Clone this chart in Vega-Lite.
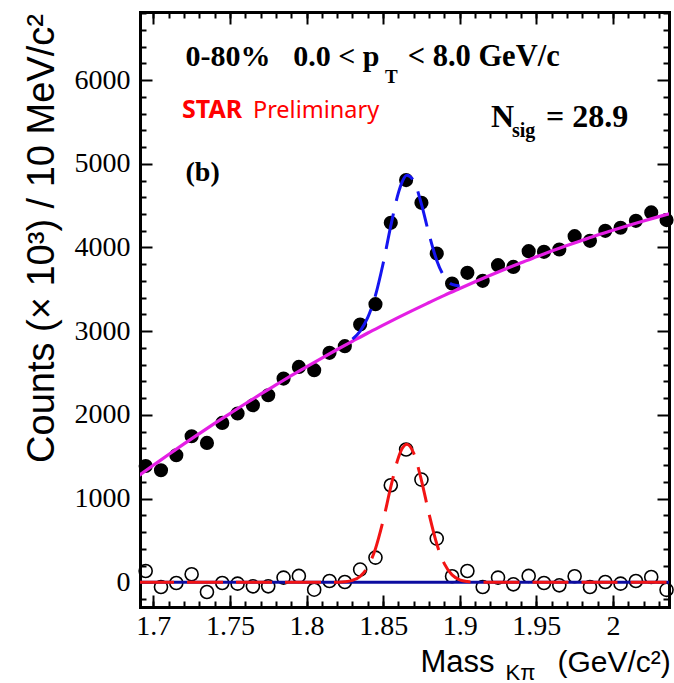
{
  "$schema": "https://vega.github.io/schema/vega-lite/v6.json",
  "autosize": {"type": "none"},
  "width": 529,
  "height": 595,
  "padding": {"left": 140, "top": 12, "right": 5, "bottom": 76},
  "background": "white",
  "config": {"view": {"stroke": null}, "axis": {"grid": false, "zindex": 1}},
  "datasets": {
    "obs": [
      {"m": 1.695, "total": 1390, "signal": 135},
      {"m": 1.705, "total": 1339, "signal": -56},
      {"m": 1.715, "total": 1518, "signal": -8},
      {"m": 1.725, "total": 1745, "signal": 96},
      {"m": 1.735, "total": 1665, "signal": -116},
      {"m": 1.745, "total": 1904, "signal": -8},
      {"m": 1.755, "total": 2016, "signal": -16},
      {"m": 1.765, "total": 2115, "signal": -48},
      {"m": 1.775, "total": 2235, "signal": -48},
      {"m": 1.785, "total": 2434, "signal": 56},
      {"m": 1.795, "total": 2573, "signal": 76},
      {"m": 1.805, "total": 2534, "signal": -88},
      {"m": 1.815, "total": 2741, "signal": 16},
      {"m": 1.825, "total": 2821, "signal": 4},
      {"m": 1.835, "total": 3080, "signal": 152},
      {"m": 1.845, "total": 3323, "signal": 295},
      {"m": 1.855, "total": 4294, "signal": 1159},
      {"m": 1.865, "total": 4805, "signal": 1586},
      {"m": 1.875, "total": 4533, "signal": 1227},
      {"m": 1.885, "total": 3928, "signal": 522},
      {"m": 1.895, "total": 3570, "signal": 72},
      {"m": 1.905, "total": 3697, "signal": 135},
      {"m": 1.915, "total": 3601, "signal": -56},
      {"m": 1.925, "total": 3789, "signal": 56},
      {"m": 1.935, "total": 3768, "signal": -24},
      {"m": 1.945, "total": 3956, "signal": 76},
      {"m": 1.955, "total": 3948, "signal": -8},
      {"m": 1.965, "total": 3976, "signal": -36},
      {"m": 1.975, "total": 4135, "signal": 72},
      {"m": 1.985, "total": 4079, "signal": -56},
      {"m": 1.995, "total": 4199, "signal": 4},
      {"m": 2.005, "total": 4235, "signal": -16},
      {"m": 2.015, "total": 4318, "signal": 16},
      {"m": 2.025, "total": 4419, "signal": 64},
      {"m": 2.035, "total": 4327, "signal": -90}
    ],
    "bg": [
      {"m": 1.69, "counts": 1268}, {"m": 1.70, "counts": 1398}, {"m": 1.71, "counts": 1527},
      {"m": 1.72, "counts": 1653}, {"m": 1.73, "counts": 1776}, {"m": 1.74, "counts": 1898},
      {"m": 1.75, "counts": 2016}, {"m": 1.76, "counts": 2133}, {"m": 1.77, "counts": 2247},
      {"m": 1.78, "counts": 2358}, {"m": 1.79, "counts": 2468}, {"m": 1.80, "counts": 2574},
      {"m": 1.81, "counts": 2679}, {"m": 1.82, "counts": 2781}, {"m": 1.83, "counts": 2880},
      {"m": 1.84, "counts": 2978}, {"m": 1.85, "counts": 3072}, {"m": 1.86, "counts": 3165},
      {"m": 1.87, "counts": 3255}, {"m": 1.88, "counts": 3342}, {"m": 1.89, "counts": 3428},
      {"m": 1.90, "counts": 3510}, {"m": 1.91, "counts": 3591}, {"m": 1.92, "counts": 3669},
      {"m": 1.93, "counts": 3744}, {"m": 1.94, "counts": 3818}, {"m": 1.95, "counts": 3888},
      {"m": 1.96, "counts": 3957}, {"m": 1.97, "counts": 4023}, {"m": 1.98, "counts": 4086},
      {"m": 1.99, "counts": 4148}, {"m": 2.00, "counts": 4206}, {"m": 2.01, "counts": 4263},
      {"m": 2.02, "counts": 4317}, {"m": 2.03, "counts": 4368}, {"m": 2.04, "counts": 4418}
    ],
    "fit": [
      {"m": 1.830, "counts": 2904}, {"m": 1.835, "counts": 3002}, {"m": 1.840, "counts": 3164},
      {"m": 1.845, "counts": 3427}, {"m": 1.850, "counts": 3808}, {"m": 1.855, "counts": 4258},
      {"m": 1.860, "counts": 4656}, {"m": 1.8625, "counts": 4788}, {"m": 1.8655, "counts": 4864},
      {"m": 1.870, "counts": 4796}, {"m": 1.875, "counts": 4518}, {"m": 1.880, "counts": 4156},
      {"m": 1.885, "counts": 3845}, {"m": 1.890, "counts": 3648}, {"m": 1.895, "counts": 3558},
      {"m": 1.900, "counts": 3540}
    ],
    "gaus": [
      {"m": 1.69, "counts": 0}, {"m": 1.815, "counts": 0}, {"m": 1.820, "counts": 1.6},
      {"m": 1.825, "counts": 6.7}, {"m": 1.830, "counts": 24}, {"m": 1.835, "counts": 72},
      {"m": 1.840, "counts": 186}, {"m": 1.845, "counts": 402}, {"m": 1.850, "counts": 736},
      {"m": 1.855, "counts": 1139}, {"m": 1.860, "counts": 1491}, {"m": 1.8625, "counts": 1601},
      {"m": 1.8655, "counts": 1650}, {"m": 1.870, "counts": 1541}, {"m": 1.875, "counts": 1219},
      {"m": 1.880, "counts": 814}, {"m": 1.885, "counts": 460}, {"m": 1.890, "counts": 220},
      {"m": 1.895, "counts": 89}, {"m": 1.900, "counts": 30}, {"m": 1.905, "counts": 8.7},
      {"m": 1.910, "counts": 2.1}, {"m": 1.915, "counts": 0}, {"m": 2.04, "counts": 0}
    ],
    "zero": [{"m": 1.69, "counts": 0}, {"m": 2.04, "counts": 0}]
  },
  "resolve": {"scale": {"x": "shared", "y": "shared"}, "axis": {"x": "independent", "y": "independent"}},
  "layer": [
    {
      "data": {"name": "obs"},
      "mark": {"type": "circle", "color": "black", "opacity": 1, "size": 200},
      "encoding": {
        "x": {"field": "m", "type": "quantitative", "scale": {"domain": [1.6913, 2.0366], "nice": false, "zero": false},
          "axis": {"orient": "bottom", "values": [1.7, 1.75, 1.8, 1.85, 1.9, 1.95, 2], "format": "~g", "ticks": false,
            "domain": true, "domainWidth": 3, "domainColor": "black", "domainCap": "square",
            "labelFont": "Liberation Sans Narrow", "labelFontSize": 28, "labelColor": "black", "labelPadding": 5,
            "labelFlush": false, "labelOverlap": false, "labelBound": false,
            "title": "Mass", "titleFont": "Liberation Sans", "titleFontSize": 31, "titleFontWeight": "normal", "titleColor": "black",
            "titleX": 280, "titleY": 64, "titleAlign": "left", "titleBaseline": "alphabetic", "titleAnchor": null}},
        "y": {"field": "total", "type": "quantitative", "scale": {"domain": [-295, 6813], "nice": false, "zero": false},
          "axis": {"orient": "left", "values": [0, 1000, 2000, 3000, 4000, 5000, 6000], "format": "d", "ticks": false,
            "domain": true, "domainWidth": 3, "domainColor": "black", "domainCap": "square",
            "labelFont": "Liberation Sans Narrow", "labelFontSize": 28, "labelColor": "black", "labelPadding": 10,
            "labelFlush": false, "labelOverlap": false, "labelBound": false,
            "title": "Counts (× 10³) / 10 MeV/c²", "titleFont": "Liberation Sans", "titleFontSize": 38, "titleFontWeight": "normal", "titleColor": "black",
            "titleX": -98, "titleY": 226, "titleAngle": -90, "titleAlign": "center", "titleBaseline": "middle"}}
      }
    },
    {
      "data": {"name": "obs"},
      "mark": {"type": "point", "shape": "circle", "filled": false, "color": "black", "strokeWidth": 1.6, "opacity": 1, "size": 170},
      "encoding": {
        "x": {"field": "m", "type": "quantitative", "scale": {"domain": [1.6913, 2.0366], "nice": false, "zero": false},
          "axis": {"orient": "top", "values": [1.7, 1.75, 1.8, 1.85, 1.9, 1.95, 2], "labels": false, "ticks": true,
            "tickSize": -12, "tickWidth": 2, "tickColor": "black",
            "domain": true, "domainWidth": 3, "domainColor": "black", "domainCap": "square", "title": null}},
        "y": {"field": "signal", "type": "quantitative", "scale": {"domain": [-295, 6813], "nice": false, "zero": false},
          "axis": {"orient": "right", "values": [0, 1000, 2000, 3000, 4000, 5000, 6000], "labels": false, "ticks": true,
            "tickSize": -12, "tickWidth": 2, "tickColor": "black",
            "domain": true, "domainWidth": 3, "domainColor": "black", "domainCap": "square", "title": null}}
      }
    },
    {
      "data": {"name": "zero"},
      "mark": {"type": "line", "color": "#0c0ca0", "strokeWidth": 3, "clip": true},
      "encoding": {
        "x": {"field": "m", "type": "quantitative", "scale": {"domain": [1.6913, 2.0366], "nice": false, "zero": false},
          "axis": {"orient": "bottom", "values": [1.7, 1.75, 1.8, 1.85, 1.9, 1.95, 2], "labels": false, "ticks": true,
            "tickSize": -12, "tickWidth": 2, "tickColor": "black", "domain": false,
            "title": "(GeV/c²)", "titleFont": "Liberation Sans", "titleFontSize": 30, "titleFontWeight": "normal", "titleColor": "black",
            "titleX": 417, "titleY": 64, "titleAlign": "left", "titleBaseline": "alphabetic"}},
        "y": {"field": "counts", "type": "quantitative", "scale": {"domain": [-295, 6813], "nice": false, "zero": false},
          "axis": {"orient": "left", "values": [0, 1000, 2000, 3000, 4000, 5000, 6000], "labels": false, "ticks": true,
            "tickSize": -12, "tickWidth": 2, "tickColor": "black", "domain": false, "title": null}}
      }
    },
    {
      "data": {"name": "bg"},
      "mark": {"type": "line", "color": "#e41fe4", "strokeWidth": 3.2, "clip": true, "interpolate": "monotone"},
      "encoding": {
        "x": {"field": "m", "type": "quantitative", "scale": {"domain": [1.6913, 2.0366], "nice": false, "zero": false},
          "axis": {"orient": "bottom",
            "values": [1.7, 1.71, 1.72, 1.73, 1.74, 1.75, 1.76, 1.77, 1.78, 1.79, 1.8, 1.81, 1.82, 1.83, 1.84, 1.85, 1.86, 1.87, 1.88, 1.89, 1.9, 1.91, 1.92, 1.93, 1.94, 1.95, 1.96, 1.97, 1.98, 1.99, 2, 2.01, 2.02, 2.03],
            "labels": false, "ticks": true, "tickSize": -6, "tickWidth": 2, "tickColor": "black", "domain": false,
            "title": "Kπ", "titleFont": "Liberation Sans", "titleFontSize": 22, "titleFontWeight": "normal", "titleColor": "black",
            "titleX": 365, "titleY": 72, "titleAlign": "left", "titleBaseline": "alphabetic"}},
        "y": {"field": "counts", "type": "quantitative", "scale": {"domain": [-295, 6813], "nice": false, "zero": false},
          "axis": {"orient": "left",
            "values": [-200, 200, 400, 600, 800, 1200, 1400, 1600, 1800, 2200, 2400, 2600, 2800, 3200, 3400, 3600, 3800, 4200, 4400, 4600, 4800, 5200, 5400, 5600, 5800, 6200, 6400, 6600, 6800],
            "labels": false, "ticks": true, "tickSize": -6, "tickWidth": 2, "tickColor": "black", "domain": false, "title": null}}
      }
    },
    {
      "data": {"name": "fit"},
      "mark": {"type": "line", "color": "#1515f0", "strokeWidth": 3, "strokeDash": [36, 13], "clip": true, "interpolate": "monotone"},
      "encoding": {
        "x": {"field": "m", "type": "quantitative", "scale": {"domain": [1.6913, 2.0366], "nice": false, "zero": false},
          "axis": {"orient": "top",
            "values": [1.7, 1.71, 1.72, 1.73, 1.74, 1.75, 1.76, 1.77, 1.78, 1.79, 1.8, 1.81, 1.82, 1.83, 1.84, 1.85, 1.86, 1.87, 1.88, 1.89, 1.9, 1.91, 1.92, 1.93, 1.94, 1.95, 1.96, 1.97, 1.98, 1.99, 2, 2.01, 2.02, 2.03],
            "labels": false, "ticks": true, "tickSize": -6, "tickWidth": 2, "tickColor": "black", "domain": false, "title": null}},
        "y": {"field": "counts", "type": "quantitative", "scale": {"domain": [-295, 6813], "nice": false, "zero": false},
          "axis": {"orient": "right",
            "values": [-200, 200, 400, 600, 800, 1200, 1400, 1600, 1800, 2200, 2400, 2600, 2800, 3200, 3400, 3600, 3800, 4200, 4400, 4600, 4800, 5200, 5400, 5600, 5800, 6200, 6400, 6600, 6800],
            "labels": false, "ticks": true, "tickSize": -6, "tickWidth": 2, "tickColor": "black", "domain": false, "title": null}}
      }
    },
    {
      "data": {"name": "gaus"},
      "mark": {"type": "line", "color": "#f21414", "strokeWidth": 3, "strokeDash": [36, 13], "clip": true, "interpolate": "monotone"},
      "encoding": {
        "x": {"field": "m", "type": "quantitative", "scale": {"domain": [1.6913, 2.0366], "nice": false, "zero": false}, "axis": null},
        "y": {"field": "counts", "type": "quantitative", "scale": {"domain": [-295, 6813], "nice": false, "zero": false}, "axis": null}
      }
    },
    {
      "data": {"values": [{}]},
      "mark": {"type": "text", "text": "0-80%", "font": "Liberation Serif", "fontWeight": "bold", "fontSize": 30, "align": "left", "baseline": "alphabetic", "color": "black"},
      "encoding": {"x": {"datum": 1.721, "type": "quantitative", "axis": null}, "y": {"datum": 6167, "type": "quantitative", "axis": null}}
    },
    {
      "data": {"values": [{}]},
      "mark": {"type": "text", "text": "0.0 < p", "font": "Liberation Serif", "fontWeight": "bold", "fontSize": 30, "align": "left", "baseline": "alphabetic", "color": "black"},
      "encoding": {"x": {"datum": 1.7913, "type": "quantitative", "axis": null}, "y": {"datum": 6167, "type": "quantitative", "axis": null}}
    },
    {
      "data": {"values": [{}]},
      "mark": {"type": "text", "text": "T", "font": "Liberation Serif", "fontWeight": "bold", "fontSize": 19, "align": "left", "baseline": "alphabetic", "color": "black"},
      "encoding": {"x": {"datum": 1.8513, "type": "quantitative", "axis": null}, "y": {"datum": 5960, "type": "quantitative", "axis": null}}
    },
    {
      "data": {"values": [{}]},
      "mark": {"type": "text", "text": "< 8.0 GeV/c", "font": "Liberation Serif", "fontWeight": "bold", "fontSize": 30.5, "align": "left", "baseline": "alphabetic", "color": "black"},
      "encoding": {"x": {"datum": 1.866, "type": "quantitative", "axis": null}, "y": {"datum": 6167, "type": "quantitative", "axis": null}}
    },
    {
      "data": {"values": [{}]},
      "mark": {"type": "text", "text": "STAR", "font": "Noto Sans", "fontWeight": "bold", "fontSize": 25, "align": "left", "baseline": "alphabetic", "color": "#ff0000"},
      "encoding": {"x": {"datum": 1.7187, "type": "quantitative", "axis": null}, "y": {"datum": 5546, "type": "quantitative", "axis": null}}
    },
    {
      "data": {"values": [{}]},
      "mark": {"type": "text", "text": "Preliminary", "font": "Noto Sans", "fontWeight": "normal", "fontSize": 23.5, "align": "left", "baseline": "alphabetic", "color": "#ff0000"},
      "encoding": {"x": {"datum": 1.765, "type": "quantitative", "axis": null}, "y": {"datum": 5546, "type": "quantitative", "axis": null}}
    },
    {
      "data": {"values": [{}]},
      "mark": {"type": "text", "text": "N", "font": "Liberation Serif", "fontWeight": "bold", "fontSize": 32, "align": "left", "baseline": "alphabetic", "color": "black"},
      "encoding": {"x": {"datum": 1.9204, "type": "quantitative", "axis": null}, "y": {"datum": 5443, "type": "quantitative", "axis": null}}
    },
    {
      "data": {"values": [{}]},
      "mark": {"type": "text", "text": "sig", "font": "Liberation Serif", "fontWeight": "bold", "fontSize": 20, "align": "left", "baseline": "alphabetic", "color": "black"},
      "encoding": {"x": {"datum": 1.9341, "type": "quantitative", "axis": null}, "y": {"datum": 5318, "type": "quantitative", "axis": null}}
    },
    {
      "data": {"values": [{}]},
      "mark": {"type": "text", "text": "= 28.9", "font": "Liberation Serif", "fontWeight": "bold", "fontSize": 32, "align": "left", "baseline": "alphabetic", "color": "black"},
      "encoding": {"x": {"datum": 1.9563, "type": "quantitative", "axis": null}, "y": {"datum": 5443, "type": "quantitative", "axis": null}}
    },
    {
      "data": {"values": [{}]},
      "mark": {"type": "text", "text": "(b)", "font": "Liberation Serif", "fontWeight": "bold", "fontSize": 28, "align": "left", "baseline": "alphabetic", "color": "black"},
      "encoding": {"x": {"datum": 1.721, "type": "quantitative", "axis": null}, "y": {"datum": 4793, "type": "quantitative", "axis": null}}
    }
  ]
}
